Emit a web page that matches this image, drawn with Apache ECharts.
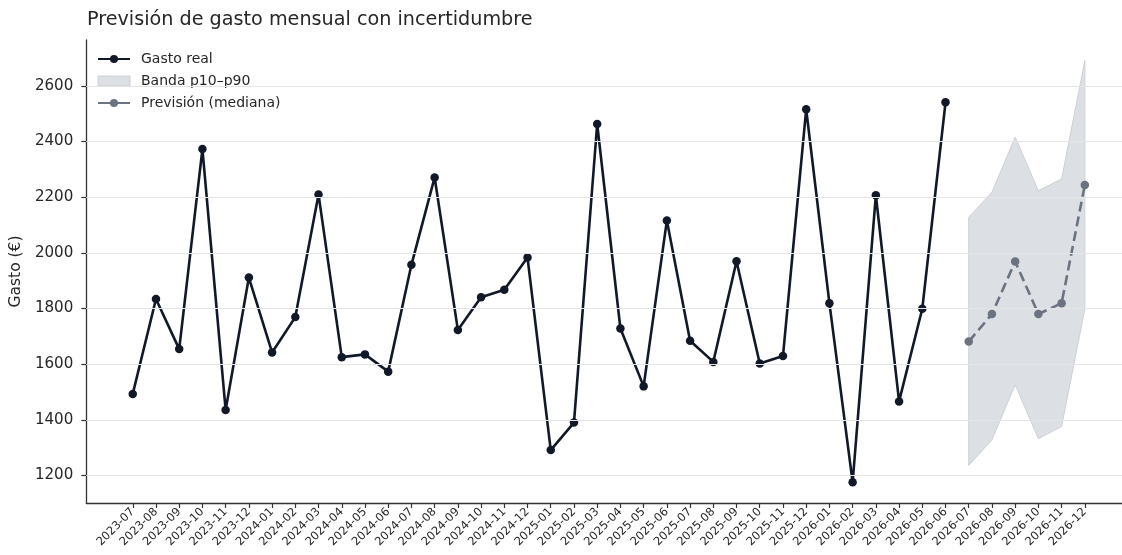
<!DOCTYPE html>
<html>
<head>
<meta charset="utf-8">
<script src="https://cdn.jsdelivr.net/npm/echarts@6/dist/echarts.min.js"></script>
<style>
  html, body { margin: 0; padding: 0; background: #fff; }
  #chart { width: 1122px; height: 555px; }
</style>
</head>
<body>
<div id="chart"></div>
<script>
// Months on the horizontal axis (history + forecast horizon)
const months = [
  '2023-07','2023-08','2023-09','2023-10','2023-11','2023-12',
  '2024-01','2024-02','2024-03','2024-04','2024-05','2024-06',
  '2024-07','2024-08','2024-09','2024-10','2024-11','2024-12',
  '2025-01','2025-02','2025-03','2025-04','2025-05','2025-06',
  '2025-07','2025-08','2025-09','2025-10','2025-11','2025-12',
  '2026-01','2026-02','2026-03','2026-04','2026-05','2026-06',
  '2026-07','2026-08','2026-09','2026-10','2026-11','2026-12'
];

// Observed monthly spend (2023-07 .. 2026-06)
const gastoReal = [
  1493, 1834, 1654, 2373, 1435, 1911,
  1642, 1769, 2210, 1625, 1635, 1573,
  1957, 2271, 1723, 1840, 1867, 1983,
  1291, 1390, 2463, 1728, 1520, 2116,
  1684, 1608, 1970, 1602, 1629, 2516,
  1819, 1175, 2207, 1466, 1799, 2541
];

// Forecast (2026-07 .. 2026-12)
const prevMediana = [1681, 1780, 1969, 1780, 1819, 2244];
const bandaP10    = [1236, 1328, 1526, 1332, 1376, 1798];
const bandaP90    = [2128, 2218, 2416, 2223, 2266, 2691];

// Y tick labels
const yTicks = [1200, 1400, 1600, 1800, 2000, 2200, 2400, 2600];

const FONT = 'DejaVu Sans';
const TXT = '#262626';
const REAL_COLOR = '#111827';
const PREV_COLOR = '#6b7280';
const BAND_FILL = 'rgba(156,163,175,0.35)';
const BAND_EDGE = '#cdd0d5';

const firstFc = gastoReal.length;
const realData = gastoReal.map((v, i) => [i, v]);
const prevData = prevMediana.map((v, i) => [firstFc + i, v]);
const bandData = bandaP10.map((v, i) => [firstFc + i, v, bandaP90[i]]);
const xIdx = months.map((m, i) => i);

// p10–p90 band: one polygon through the upper edge and back along the lower edge
function renderBand(params, api) {
  if (params.dataIndex !== 0) return null;
  const upper = [], lower = [];
  for (let i = 0; i < bandData.length; i++) {
    upper.push(api.coord([bandData[i][0], bandData[i][2]]));
    lower.push(api.coord([bandData[i][0], bandData[i][1]]));
  }
  const pts = upper.concat(lower.reverse());
  return {
    type: 'polygon',
    shape: { points: pts },
    style: { fill: BAND_FILL, stroke: BAND_EDGE, lineWidth: 1 }
  };
}

const chart = echarts.init(document.getElementById('chart'), null, { renderer: 'canvas' });

chart.setOption({
  animation: false,
  backgroundColor: '#ffffff',
  textStyle: { fontFamily: FONT },
  title: {
    text: 'Previsión de gasto mensual con incertidumbre',
    left: 82,
    top: 6,
    textStyle: { fontFamily: FONT, fontSize: 19.2, fontWeight: 'normal', color: TXT }
  },
  legend: {
    orient: 'vertical',
    left: 92,
    top: 47,
    itemWidth: 32,
    itemHeight: 10,
    itemGap: 8,
    textStyle: { fontFamily: FONT, fontSize: 14, color: TXT, padding: [0, 0, 0, 6] },
    data: [
      { name: 'Gasto real' },
      { name: 'Banda p10–p90', icon: 'rect',
        itemStyle: { color: '#dcdfe3', borderColor: BAND_EDGE, borderWidth: 1 } },
      { name: 'Previsión (mediana)', lineStyle: { type: 'solid' } }
    ]
  },
  grid: { left: 86, right: 0, top: 40, bottom: 52, containLabel: false },
  xAxis: {
    type: 'value',
    min: -2.0,
    max: 42.6,
    splitLine: { show: false },
    axisLine: { show: true, onZero: false, lineStyle: { color: '#333', width: 1.3 } },
    axisTick: { show: true, length: 5, customValues: xIdx, lineStyle: { color: '#333', width: 1.2 } },
    axisLabel: {
      customValues: xIdx,
      rotate: 45,
      margin: 7,
      fontFamily: FONT,
      fontSize: 11.5,
      color: TXT,
      formatter: v => months[Math.round(v)] || ''
    }
  },
  yAxis: {
    type: 'value',
    min: 1100.8,
    max: 2765,
    name: 'Gasto (€)',
    nameLocation: 'middle',
    nameGap: 57,
    nameRotate: 90,
    nameTextStyle: { fontFamily: FONT, fontSize: 15.5, color: TXT },
    splitLine: { show: false },
    axisLine: { show: true, onZero: false, lineStyle: { color: '#333', width: 1.3 } },
    axisTick: { show: true, length: 5, customValues: yTicks, lineStyle: { color: '#333', width: 1.2 } },
    axisLabel: {
      customValues: yTicks, margin: 13, fontFamily: FONT, fontSize: 15.1, color: TXT,
      formatter: v => String(Math.round(v))
    }
  },
  series: [
    {
      name: 'Banda p10–p90',
      type: 'custom',
      renderItem: renderBand,
      data: bandData,
      encode: { x: 0, y: [1, 2] },
      z: 2,
      itemStyle: { color: '#dcdfe3' },
      markLine: {
        silent: true,
        symbol: 'none',
        label: { show: false },
        lineStyle: { color: '#e4e4e4', width: 1, type: 'solid' },
        data: yTicks.map(v => ({ yAxis: v }))
      }
    },
    {
      name: 'Gasto real',
      type: 'line',
      data: realData,
      z: 4,
      symbol: 'circle',
      symbolSize: 8.5,
      color: REAL_COLOR,
      itemStyle: { color: REAL_COLOR },
      lineStyle: { color: REAL_COLOR, width: 2.6 }
    },
    {
      name: 'Previsión (mediana)',
      type: 'line',
      data: prevData,
      z: 3,
      symbol: 'circle',
      symbolSize: 8.5,
      color: PREV_COLOR,
      itemStyle: { color: PREV_COLOR },
      lineStyle: { color: PREV_COLOR, width: 2.6, type: [10, 5] }
    }
  ]
});
</script>
</body>
</html>
